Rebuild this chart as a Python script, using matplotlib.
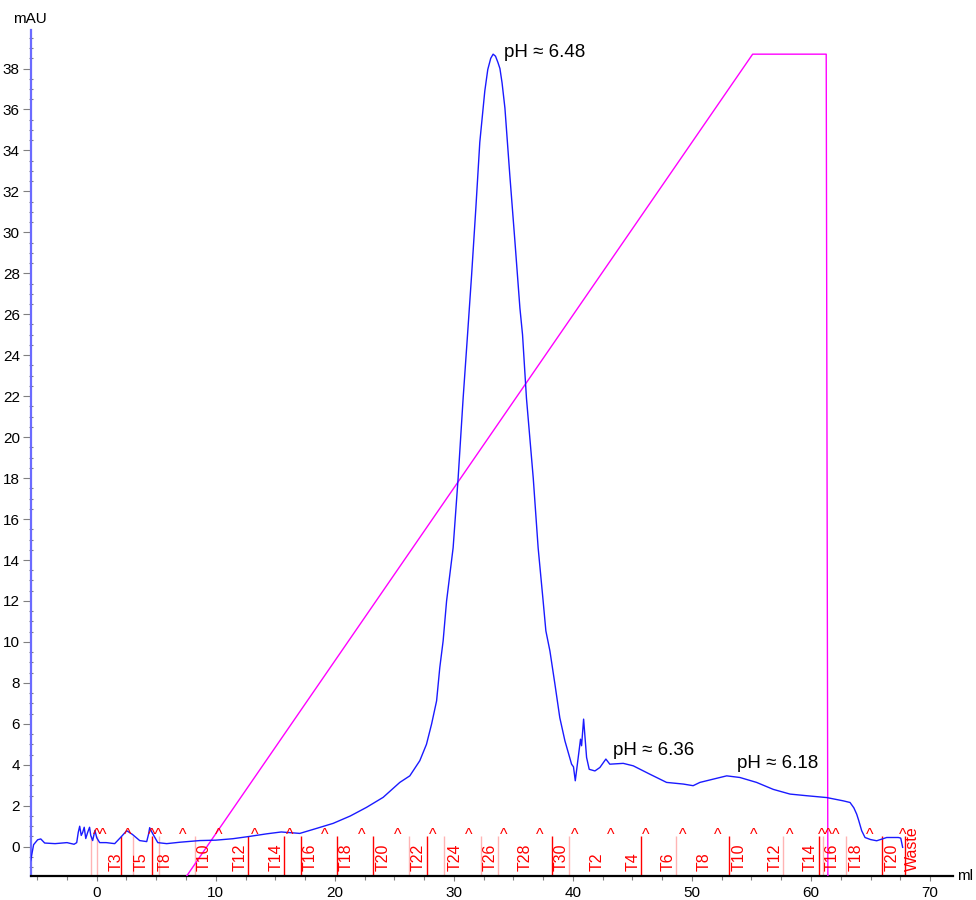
import matplotlib
matplotlib.use("Agg")
import matplotlib.pyplot as plt
from matplotlib.ticker import MultipleLocator

plt.rcParams['font.family'] = ['Liberation Sans', 'DejaVu Sans']

# UV trace (ml, mAU)
uv_ml = [-5.55, -5.3, -4.96, -4.7, -4.37, -3.5, -2.5, -1.9, -1.68, -1.55, -1.43, -1.3, -1.18,
         -1.05, -0.92, -0.76, -0.6, -0.5, -0.34, -0.15, 0.0, 0.25, 0.8, 1.51, 2.0, 2.52, 3.0,
         3.61, 4.2, 4.35, 4.45, 4.6, 4.71, 5.13, 5.88, 7.0, 8.66, 10.0, 11.43, 12.8, 14.29,
         15.5, 17.06, 18.5, 19.86, 21.3, 22.66, 24.06, 25.46, 26.3, 27.14, 27.7, 28.13, 28.55,
         28.82, 29.1, 29.39, 29.94, 30.36, 30.78, 31.15, 31.49, 31.85, 32.18, 32.6, 32.85,
         33.1, 33.3, 33.5, 33.7, 33.87, 34.05, 34.29, 34.7, 35.13, 35.55, 35.77, 36.1, 36.67,
         37.08, 37.5, 37.73, 38.07, 38.49, 38.9, 39.33, 39.89, 40.05, 40.2, 40.5, 40.64, 40.73,
         40.9, 41.15, 41.37, 41.85, 42.27, 42.77, 43.1, 44.23, 45.07, 46.47, 47.87, 49.27,
         50.1, 50.67, 51.79, 52.92, 54.03, 55.43, 56.83, 58.24, 59.64, 61.32, 62.71, 63.28,
         63.6, 63.84, 64.0, 64.26, 64.54, 65.0, 65.52, 66.36, 67.34, 67.54, 67.7]
uv_mau = [-0.68, 0.1, 0.34, 0.38, 0.18, 0.15, 0.2, 0.12, 0.2, 0.7, 1.0, 0.55, 0.7,
          0.95, 0.4, 0.7, 0.95, 0.55, 0.3, 0.8, 0.44, 0.2, 0.2, 0.15, 0.45, 0.78, 0.6,
          0.3, 0.25, 0.6, 0.93, 0.75, 0.63, 0.2, 0.15, 0.22, 0.3, 0.32, 0.39, 0.5, 0.63,
          0.72, 0.65, 0.9, 1.14, 1.5, 1.92, 2.41, 3.14, 3.46, 4.2, 5.0, 5.99, 7.12,
          8.75, 10.05, 12.0, 14.6, 18.0, 21.9, 25.0, 27.9, 31.2, 34.4, 36.9, 37.95,
          38.5, 38.7, 38.6, 38.3, 38.0, 37.3, 36.07, 32.8, 29.56, 26.3, 25.0, 21.9, 18.0,
          14.6, 12.0, 10.54, 9.56, 7.94, 6.3, 5.17, 4.03, 3.9, 3.22, 4.6, 5.25, 4.93,
          6.23, 4.36, 3.78, 3.7, 3.87, 4.28, 4.03, 4.07, 3.95, 3.54, 3.14, 3.06,
          2.98, 3.14, 3.3, 3.46, 3.38, 3.14, 2.8, 2.57, 2.49, 2.4, 2.24, 2.16,
          1.9, 1.59, 1.3, 0.78, 0.45, 0.35, 0.29, 0.45, 0.45, 0.42, -0.03]

# Gradient (drawn on the same scale)
grad_ml = [7.0, 55.1, 61.28, 61.42]
grad_val = [-1.9, 38.7, 38.7, -1.9]

# Fraction marks
frac_line_ml = [-0.45, 0.06, 2.08, 3.05, 4.65, 5.24, 8.24, 12.71, 15.74, 17.2, 20.19, 23.22,
                26.24, 27.71, 29.16, 32.24, 33.72, 38.21, 39.69, 45.69, 48.66, 53.13, 57.67,
                60.70, 60.98, 62.94, 65.94, 67.9]
frac_line_solid = [0, 0, 1, 0, 1, 0, 0, 1, 1, 1, 1, 1,
                   0, 1, 0, 0, 0, 1, 0, 1, 0, 1, 0,
                   1, 0, 0, 1, 1]
frac_labels = ['T3', 'T5', 'T8', 'T10', 'T12', 'T14', 'T16', 'T18', 'T20', 'T22', 'T24', 'T26',
               'T28', 'T30', 'T2', 'T4', 'T6', 'T8', 'T10', 'T12', 'T14', 'T16', 'T18', 'T20',
               'Waste']
frac_label_ml = [1.66, 3.76, 5.77, 8.99, 12.08, 15.04, 17.96, 20.98, 24.06, 27.0, 30.08, 33.03,
                 35.97, 39.05, 42.04, 45.07, 48.01, 51.0, 53.97, 56.97, 59.92, 61.74, 63.78,
                 66.78, 68.55]
caret_text = ['^', '^', '^', '^^', '^', '^', '^', '^', '^', '^', '^', '^', '^', '^', '^',
              '^', '^', '^', '^', '^', '^', '^', '^^^', '^', '^']
caret_ml = [-0.03, 0.53, 2.58, 4.9, 7.2, 10.25, 13.28, 16.22, 19.16, 22.24, 25.24,
            28.26, 31.26, 34.2, 37.17, 40.17, 43.17, 46.1, 49.2, 52.2, 55.2, 58.2, 61.5,
            64.9, 67.7]

# Annotations
ann_text = ['pH ≈ 6.48', 'pH ≈ 6.36', 'pH ≈ 6.18']
ann_ml = [34.2, 43.36, 53.78]
ann_mau = [38.54, 4.48, 3.83]

W, H = 976, 900
fig = plt.figure(figsize=(W / 100, H / 100), dpi=100)
ax = fig.add_axes([31 / W, 24 / H, (953 - 31) / W, (876 - 30) / H])
ax.set_xlim(-5.52, 71.93)
ax.set_ylim(-1.43, 39.88)

ax.plot(grad_ml, grad_val, color='#ff00ff', lw=1.0, zorder=3)
ax.plot(uv_ml, uv_mau, color='#1a1aff', lw=1.0, zorder=4)

ybot = -1.43
for xm, solid in zip(frac_line_ml, frac_line_solid):
    ax.plot([xm, xm], [ybot, 0.54], color='#ff0000' if solid else '#ffb4b4',
            lw=1.0, zorder=2, solid_capstyle='butt')
for lab, xm in zip(frac_labels, frac_label_ml):
    ax.text(xm, -1.19, lab, rotation=90, ha='center', va='bottom', color='#ff0000',
            fontsize=11.5, zorder=5)
for t, xm in zip(caret_text, caret_ml):
    ax.text(xm, 0.33, t, ha='center', va='baseline', color='#ff0000', fontsize=11.5,
            zorder=5)

for t, xm, ym in zip(ann_text, ann_ml, ann_mau):
    ax.text(xm, ym, t, ha='left', va='baseline', fontsize=13.5, color='black', zorder=6)

for s in ['top', 'right']:
    ax.spines[s].set_visible(False)
ax.spines['left'].set_color('#6b6bff')
ax.spines['left'].set_linewidth(1.6)
ax.spines['bottom'].set_color('black')
ax.spines['bottom'].set_linewidth(1.6)

ax.xaxis.set_major_locator(MultipleLocator(10))
ax.xaxis.set_minor_locator(MultipleLocator(2.5))
ax.yaxis.set_major_locator(MultipleLocator(2))
ax.yaxis.set_minor_locator(MultipleLocator(0.5))
ax.tick_params(axis='x', which='major', direction='out', length=3.5, width=0.8,
               color='#808080', labelsize=11, pad=4)
ax.tick_params(axis='x', which='minor', direction='out', length=3, width=0.8, color='#808080')
ax.tick_params(axis='y', which='major', direction='out', length=6, width=0.8,
               color='#808080', labelsize=11, pad=2)
ax.tick_params(axis='y', which='minor', direction='inout', length=3, width=0.8, color='#808080')

fig.text(30 / W, 1 - 19 / H, 'mAU', ha='center', va='center', fontsize=11)
fig.text(957 / W, (H - 876) / H, 'ml', ha='left', va='center', fontsize=11)

fig.savefig('out.png', dpi=100, facecolor='white')
